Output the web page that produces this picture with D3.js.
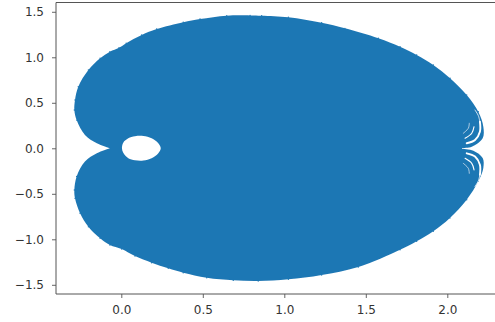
<!DOCTYPE html>
<html><head><meta charset="utf-8">
<script src="https://cdn.jsdelivr.net/npm/d3@7"></script>
<style>html,body{margin:0;padding:0;background:#fff}svg{display:block}</style>
</head><body><svg id="c" width="495" height="322"></svg>
<script>
const xTicks=[0,0.5,1,1.5,2];
const yTicks=[-1.5,-1,-0.5,0,0.5,1,1.5];
const upperX=[-0.07,-0.15,-0.223,-0.274,-0.288,-0.284,-0.264,-0.202,-0.13,-0.07,-0.014,0.03,0.125,0.217,0.38,0.483,0.647,0.79,0.861,1.025,1.229,1.372,1.577,1.71,1.812,1.914,2.017,2.119,2.19,2.221,2.217,2.15,2.09];
const upperY=[0,0.055,0.146,0.31,0.42,0.531,0.677,0.86,0.989,1.062,1.105,1.155,1.245,1.31,1.385,1.42,1.457,1.46,1.457,1.44,1.38,1.318,1.209,1.116,1.025,0.915,0.77,0.585,0.402,0.237,0.11,0.018,0.004];
const lowerX=[2.09,2.16,2.217,2.221,2.19,2.119,2.016,1.914,1.812,1.71,1.454,1.229,1.025,0.84,0.687,0.524,0.38,0.288,0.186,0.084,0.002,-0.07,-0.13,-0.202,-0.253,-0.284,-0.288,-0.274,-0.223,-0.15,-0.07];
const lowerY=[-0.004,-0.026,-0.107,-0.216,-0.363,-0.565,-0.766,-0.912,-1.022,-1.114,-1.304,-1.392,-1.44,-1.458,-1.45,-1.422,-1.367,-1.319,-1.257,-1.184,-1.107,-1.063,-0.989,-0.862,-0.714,-0.55,-0.458,-0.31,-0.146,-0.055,0];
const holeX=[0.004,0.012,0.043,0.084,0.135,0.186,0.227,0.242,0.227,0.186,0.135,0.084,0.043,0.012];
const holeY=[0,0.062,0.11,0.132,0.135,0.11,0.055,0,-0.055,-0.11,-0.135,-0.132,-0.11,-0.05];
const arc1X=[2.119,2.17,2.2,2.2], arc1Y=[0.055,0.091,0.182,0.292];
const arc1bX=[2.2,2.19,2.17], arc1bY=[0.292,0.36,0.42];
const arc2X=[2.109,2.15,2.164], arc2Y=[0.11,0.165,0.237];
const arc3X=[2.098,2.129,2.135], arc3Y=[0.165,0.22,0.275];

const svg=d3.select("#c");
const x=d3.scaleLinear().domain([-0.4006,2.2926]).range([56,495]);
const y=d3.scaleLinear().domain([-1.601,1.602]).range([294,2.5]);
const blue="#1f77b4", ink="#333", spine="#555";
svg.append("defs").append("filter").attr("id","soft").append("feGaussianBlur").attr("stdDeviation",0.4);
const g=svg.append("g").attr("filter","url(#soft)");
const upper=upperX.map((v,i)=>[v,upperY[i]]), lower=lowerX.map((v,i)=>[v,lowerY[i]]);
const open=d3.line().x(d=>x(d[0])).y(d=>y(d[1])).curve(d3.curveCatmullRom.alpha(0.5));
const closedHole=d3.line().x(d=>x(d[0])).y(d=>y(d[1])).curve(d3.curveCatmullRomClosed.alpha(0.5));
g.append("path").attr("d",open(upper)+"L"+open(lower).slice(1)+"Z").attr("fill",blue);
g.selectAll("circle.e").data(upper.concat(lower).filter(d=>Math.abs(d[1])>0.3)).join("circle").attr("class","e").attr("cx",d=>x(d[0])).attr("cy",d=>y(d[1])).attr("r",0.7).attr("fill",blue);
g.append("path").attr("d",closedHole(holeX.map((v,i)=>[v,holeY[i]]))).attr("fill","#fff");
const arcs=[[arc1X,arc1Y,1.9],[arc1bX,arc1bY,0.8],[arc2X,arc2Y,1.1],[arc3X,arc3Y,0.6]];
arcs.forEach(([ax,ay,w])=>{[1,-1].forEach(s=>{
  g.append("path").attr("d",open(ax.map((v,i)=>[v,s*ay[i]]))).attr("fill","none").attr("stroke","#fff").attr("stroke-width",w).attr("stroke-linecap","round");
});});
const style=(a)=>{a.selectAll("path").remove();a.selectAll("line").attr("stroke",spine).attr("stroke-width",0.9);
 a.selectAll("text").attr("fill",ink).style("font-family","DejaVu Sans").style("font-size","12px");};
const fmt=d=>d3.format(".1f")(d).replace("-","\u2212");
svg.append("g").attr("transform","translate(0,294)").call(d3.axisBottom(x).tickValues(xTicks).tickFormat(fmt).tickSize(4).tickPadding(7)).call(style);
svg.append("g").attr("transform","translate(56,0)").call(d3.axisLeft(y).tickValues(yTicks).tickFormat(fmt).tickSize(4).tickPadding(8)).call(style);
[[56,2.5,495,2.5],[56,294,495,294],[56,2.5,56,294]].forEach(d=>svg.append("line").attr("x1",d[0]).attr("y1",d[1]).attr("x2",d[2]).attr("y2",d[3]).attr("stroke",spine).attr("stroke-width",1));
</script></body></html>
